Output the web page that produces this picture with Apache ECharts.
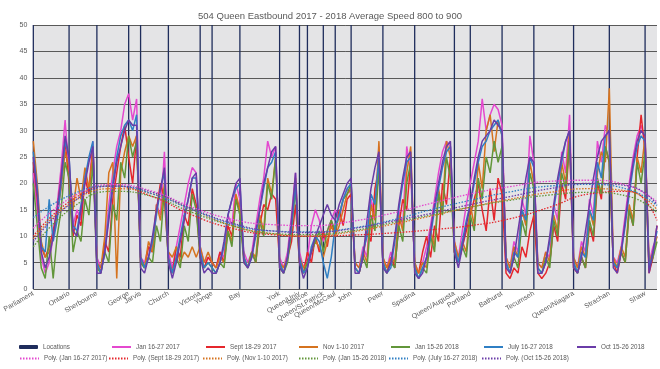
<!DOCTYPE html>
<html>
<head>
<meta charset="utf-8">
<script src="https://cdn.jsdelivr.net/npm/echarts@6/dist/echarts.min.js"></script>
<style>html,body{margin:0;padding:0;background:#fff}#c{width:660px;height:369px}</style>
</head>
<body>
<div id="c"></div>
<script>
// ---- data ----
const pointCount = 158;
const locationNames = ['Parliament','Ontario','Sherbourne','George','Jarvis','Church','Victoria','Yonge','Bay','York','Queen/Univ','Simcoe','Queen/St.Patrick','Queen/McCaul','John','Peter','Spadina','Queen/Augusta','Portland','Bathurst','Tecumseh','Queen/Niagara','Strachan','Shaw'];
const locationPoints = [0,9,16,24,27,34,42,45,52,62,67,69,73,76,80,88,96,106,110,118,126,136,145,154];
const locationHeight = 50;

const jan2017 = [22,15,6,3,5,10,16,23,32,22, 12,15,13,22,19,28,6, 4,8,16,22,27,30,35,37,32,36,6, 5,8,7,16,14,26,7, 4,8,12,16,20,23,22,8, 5,6,5, 4,7,6,14,12,20,17,7, 5,7,12,17,21,28,25,27,6, 4,7,14,22,7, 4,6,12,15,13,9,11,13,15,13,17,19,18,5, 4,8,6,17,14,27,6, 4,7,5,15,12,27,22,5, 3,5,8,12,17,22,26,28,27,9, 6,11,16,20,24,28,36,30,33,35,34,31,6, 4,9,7,17,14,29,24,5, 4,7,6,16,13,26,22,33,6, 4,9,7,17,14,28,24,31,29,6, 5,8,14,20,25,29,31,28,5,8,10];
const sept2017 = [24,17,8,6,8,11,15,21,28,20, 10,14,12,21,18,27,5, 3,9,7,17,22,27,31,25,20,29,6, 4,8,7,15,20,17,6, 3,8,6,14,12,19,16,6, 4,6,5, 4,7,5,12,10,17,15,6, 4,7,5,12,16,15,18,17,5, 3,6,9,16,5, 3,7,5,10,7,11,8,13,10,15,12,17,18,4, 3,6,11,9,19,23,5, 3,6,4,12,17,15,24,4, 3,7,10,6,12,9,20,16,25,7, 5,8,11,14,17,20,15,11,19,13,21,18,3, 2,4,3,8,6,11,14,3, 2,3,5,12,9,20,17,28,4, 3,6,4,12,9,20,17,27,24,5, 3,7,5,15,12,25,33,26,3,6,12];
const nov2017 = [28,20,9,6,7,10,14,19,26,23, 15,21,17,23,19,26,5, 4,10,22,24,2,22,26,29,27,29,5, 4,9,7,16,13,20,7, 6,8,5,7,6,8,6,8, 5,7,5, 4,6,5,11,9,18,15,6, 4,7,6,14,11,21,18,25,5, 4,6,12,21,6, 4,5,7,9,8,6,9,12,10,12,15,18,19,5, 4,7,5,16,13,28,6, 4,6,5,14,11,22,27,5, 3,5,4,11,8,19,15,28,25,9, 6,9,7,16,12,24,19,30,33,26,32,29,6, 4,8,6,15,12,24,20,5, 4,7,5,14,11,24,20,30,6, 4,8,6,15,12,22,26,24,38,6, 4,8,6,16,13,25,22,29,5,7,10];
const jan2018 = [20,12,4,2,10,2,10,15,24,21, 7,11,9,17,14,24,4, 3,7,5,16,13,24,21,29,25,28,5, 4,6,5,12,9,19,5, 3,6,4,12,9,18,15,6, 4,5,4, 3,5,4,11,8,17,14,5, 4,7,5,13,10,20,17,25,4, 3,5,11,19,5, 3,5,7,9,11,7,11,13,11,14,17,18,20,4, 3,6,4,14,11,23,5, 3,5,4,12,9,20,24,4, 2,4,3,10,7,18,14,25,21,7, 5,8,6,14,11,21,17,25,22,28,24,27,5, 3,6,4,13,10,22,19,4, 3,6,4,13,10,22,19,28,5, 3,6,4,13,10,21,18,27,24,5, 4,7,5,15,12,24,20,26,4,6,9];
const jul2018 = [26,19,8,7,17,9,13,20,28,25, 12,11,16,21,25,28,5, 3,7,14,20,25,29,31,32,30,33,6, 4,6,9,14,19,22,6, 3,6,10,14,17,21,21,7, 4,5,4, 3,5,8,14,17,19,20,6, 4,6,10,15,19,23,24,26,5, 3,6,12,20,6, 3,4,8,10,9,5,2,6,12,14,17,19,20,4, 3,7,10,18,16,25,5, 3,4,9,15,20,24,25,4, 2,4,6,10,15,19,23,26,27,8, 5,9,13,16,20,24,27,28,30,31,32,29,5, 3,7,6,15,13,25,23,4, 3,5,9,15,20,24,28,30,5, 3,7,6,15,13,24,21,29,30,5, 4,7,12,18,23,27,29,28,4,7,11];
const oct2018 = [25,18,7,4,6,10,15,21,29,25, 11,10,15,20,24,27,3, 3,7,13,19,24,27,30,32,31,31,4, 3,6,10,15,19,23,5, 2,5,9,13,17,21,22,6, 3,4,3, 3,5,9,14,17,20,21,5, 4,6,11,15,20,23,26,27,4, 3,6,13,22,5, 2,4,7,10,12,14,16,14,13,16,18,20,21,3, 3,6,13,19,23,26,4, 3,5,10,16,21,25,26,3, 2,3,6,11,16,20,24,27,28,7, 4,8,12,16,21,25,28,29,30,32,31,30,4, 3,6,11,16,21,25,24,3, 3,5,10,16,21,25,28,30,4, 3,6,11,16,21,25,28,29,30,4, 3,7,13,19,24,28,30,29,3,7,12];

// polynomial trendlines, read at these points
const trendPoints = [0,10,20,30,40,50,60,70,80,90,100,110,120,130,140,150,157];
const trendJan2017 = [11.5,17.5,19.8,18.5,15.5,13.2,12.2,12.0,12.8,14.3,16.2,18.0,19.4,20.4,20.6,19.5,16.5];
const trendSept2017 = [10.0,17.0,19.5,17.5,14.0,11.5,10.3,10.0,10.2,10.6,11.2,12.0,13.3,15.5,18.0,18.5,13.0];
const trendNov2017 = [9.5,16.5,19.0,18.0,15.0,12.0,10.5,10.0,10.8,12.2,13.8,15.5,17.0,18.3,19.0,18.5,15.0];
const trendJan2018 = [8.0,15.5,18.5,17.5,14.5,12.0,10.5,10.3,11.0,12.5,14.0,15.5,16.8,17.8,18.3,17.5,14.5];
const trendJul2018 = [13.5,18.0,19.5,18.0,15.0,12.3,11.0,10.8,11.5,13.0,15.0,16.8,18.4,19.5,19.8,18.8,15.8];
const trendOct2018 = [9.0,16.5,19.5,18.3,15.2,12.5,11.0,10.7,11.4,12.8,14.3,16.0,17.5,19.0,20.0,19.5,16.0];

const yTicks = {min: 0, max: 50, step: 5};

// ---- build ----
const categories = [];
for (let i = 0; i < pointCount; i++) categories.push('');
locationNames.forEach((n, k) => { categories[locationPoints[k]] = n; });
const locData = categories.map(() => null);
locationPoints.forEach(p => { locData[p] = locationHeight; });

function sparse(vals) {
  const arr = categories.map(() => null);
  trendPoints.forEach((p, k) => { arr[p] = vals[k]; });
  return arr;
}

const seriesDefs = [
  {name: 'Jan 16-27 2017', data: jan2017, trend: trendJan2017, color: '#e448cf'},
  {name: 'Sept 18-29 2017', data: sept2017, trend: trendSept2017, color: '#e5262c'},
  {name: 'Nov 1-10 2017', data: nov2017, trend: trendNov2017, color: '#d5731f'},
  {name: 'Jan 15-26 2018', data: jan2018, trend: trendJan2018, color: '#62963a'},
  {name: 'July 16-27 2018', data: jul2018, trend: trendJul2018, color: '#2f7fc4'},
  {name: 'Oct 15-26 2018', data: oct2018, trend: trendOct2018, color: '#6a3ca8'}
];

const series = [{
  name: 'Locations', type: 'bar', data: locData, barWidth: 1.3,
  itemStyle: {color: '#1f2d5c'}, z: 1, silent: true
}];
seriesDefs.forEach(s => {
  series.push({
    name: s.name, type: 'line', data: s.data, symbol: 'none', z: 3,
    lineStyle: {color: s.color, width: 1.5}, itemStyle: {color: s.color}
  });
});
seriesDefs.forEach(s => {
  series.push({
    name: 'Poly. (' + s.name + ')', type: 'line', data: sparse(s.trend), symbol: 'none',
    smooth: true, connectNulls: true, z: 4,
    lineStyle: {color: s.color, width: 1.3, type: [1.5, 1.5]}, itemStyle: {color: s.color}
  });
});

const legendTxt = {fontSize: 6.3, color: '#595959', fontFamily: 'Liberation Sans'};
const row1 = ['Locations'].concat(seriesDefs.map(s => s.name));
const row1x = [19, 111, 205, 298, 390, 483, 576];
const row2 = seriesDefs.map(s => 'Poly. (' + s.name + ')');
const row2x = [19, 108, 202, 298, 388, 481];
const legends = [];
row1.forEach((n, k) => legends.push({
  data: [n], left: row1x[k], top: 344, itemWidth: 19, itemHeight: 4, textStyle: legendTxt, padding: 0,
  itemStyle: k === 0 ? {} : {opacity: 0}
}));
row2.forEach((n, k) => legends.push({
  data: [n], left: row2x[k], top: 355.5, itemWidth: 19, itemHeight: 4, textStyle: legendTxt, padding: 0,
  itemStyle: {opacity: 0}
}));

const chart = echarts.init(document.getElementById('c'), null, {renderer: 'canvas'});
chart.setOption({
  animation: false,
  backgroundColor: '#ffffff',
  title: {
    text: '504 Queen Eastbound 2017 - 2018 Average Speed 800 to 900',
    left: 'center', top: 6,
    textStyle: {fontSize: 9.5, fontWeight: 'normal', color: '#595959', fontFamily: 'Liberation Sans'}
  },
  legend: legends,
  grid: {left: 29, right: 3, top: 25, bottom: 80, show: true, backgroundColor: '#e4e4e6', borderWidth: 0},
  xAxis: {
    type: 'category', data: categories, boundaryGap: false,
    axisLine: {show: false}, axisTick: {show: false}, splitLine: {show: false},
    axisLabel: {
      interval: (idx, val) => val !== '', rotate: 30, fontSize: 7, color: '#595959',
      fontFamily: 'Liberation Sans', margin: 4
    }
  },
  yAxis: {
    type: 'value', min: yTicks.min, max: yTicks.max, interval: yTicks.step,
    axisLine: {show: false}, axisTick: {show: false},
    splitLine: {lineStyle: {color: '#595959', width: 1}},
    axisLabel: {fontSize: 7, color: '#595959', fontFamily: 'Liberation Sans', margin: 6}
  },
  series: series
});
</script>
</body>
</html>
